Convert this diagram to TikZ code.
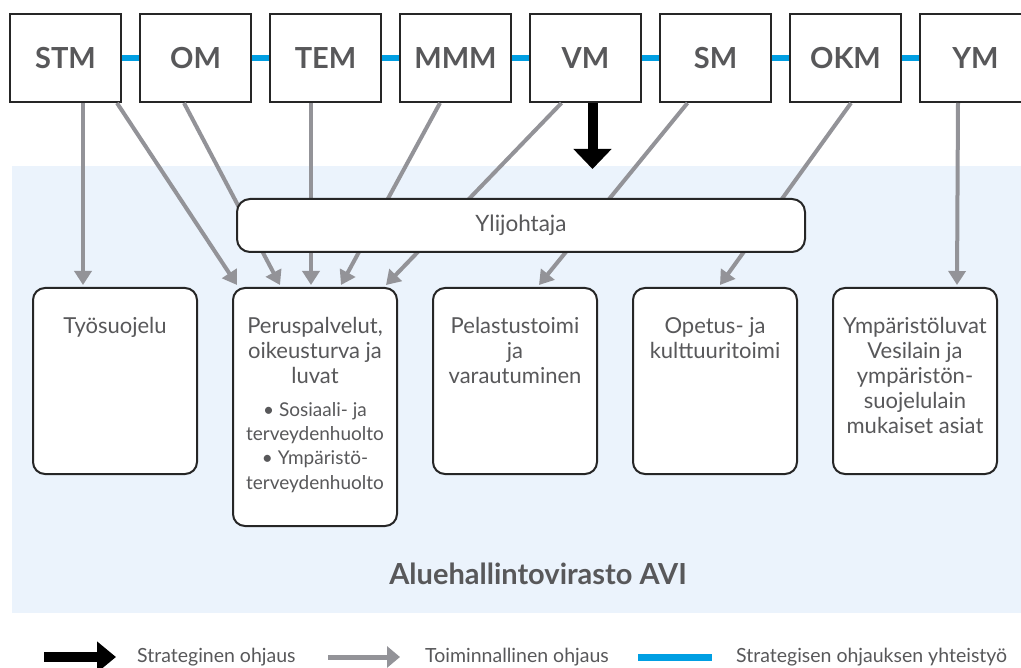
\documentclass[tikz,border=0pt]{standalone}
\usepackage{fontspec}
\setmainfont{Lato}
\usetikzlibrary{positioning, arrows.meta, calc}

\definecolor{avigray}{HTML}{58585A}
\definecolor{opsgray}{HTML}{939398}
\definecolor{coopblue}{HTML}{009FE3}
\definecolor{avibg}{HTML}{EBF3FC}

\begin{document}
\begin{tikzpicture}[
    x=1pt, y=-1pt,
    ministry/.style={draw=black!85, line width=2pt, fill=white,
        minimum width=111pt, minimum height=88pt, inner sep=0pt,
        font=\bfseries\fontsize{29}{30}\selectfont, text=avigray},
    unit/.style={draw=black!85, line width=2pt, fill=white,
        rounded corners=12pt, minimum width=164pt, inner sep=0pt, anchor=north},
    unittext/.style={anchor=north, align=center, inner sep=0pt, text=avigray,
        font=\fontsize{22}{25}\selectfont},
    subtext/.style={anchor=north, align=center, inner sep=0pt, text=avigray,
        font=\fontsize{19}{24.3}\selectfont},
    legtext/.style={anchor=base west, inner sep=0pt, text=avigray,
        font=\fontsize{19.5}{21}\selectfont},
    ops/.style={draw=opsgray, line width=4pt, -{Triangle[length=14pt, width=17pt]}},
    strat/.style={draw=black, line width=10pt, -{Triangle[length=20pt, width=37pt]}},
    coop/.style={draw=coopblue, line width=6pt}
]
    \useasboundingbox (0,0) rectangle (1021,668);

    % AVI area
    \fill[avibg] (12,166) rectangle (1030,613);
    \node[anchor=base, text=avigray, font=\bfseries\fontsize{29}{31}\selectfont]
        (avi) at (538,584) {Aluehallintovirasto AVI};

    % Ministries in a row
    \foreach \name [count=\i from 0] in {STM,OM,TEM,MMM,VM,SM,OKM,YM} {
        \node[ministry] (\name) at (65.5+130*\i, 58) {\name};
    }

    % Strategic cooperation
    \foreach \a/\b in {STM/OM, OM/TEM, TEM/MMM, MMM/VM, VM/SM, SM/OKM, OKM/YM} {
        \draw[coop] (\a.east) -- (\b.west);
    }

    % Units of AVI
    \foreach \name/\h [count=\i from 0] in {tyo/186, perus/238, pelas/186, opetus/186, ymp/186} {
        \node[unit, minimum height=\h pt] (\name) at (115+200*\i, 287) {};
    }

    \node[unittext] (tyotxt) at ($(tyo.north)+(0,30)$) {Työsuojelu};
    \node[unittext] (perustxt) at ($(perus.north)+(0,30)$)
        {Peruspalvelut,\\oikeusturva ja\\luvat};
    \node[subtext] (perussub) at ($(perus.north)+(0,115)$)
        {• Sosiaali- ja\\terveydenhuolto\\• Ympäristö-\\terveydenhuolto};
    \node[unittext] (pelastxt) at ($(pelas.north)+(0,30)$)
        {Pelastustoimi\\ja\\varautuminen};
    \node[unittext] (opetustxt) at ($(opetus.north)+(0,30)$)
        {Opetus- ja\\kulttuuritoimi};
    \node[unittext] (ymptxt) at ($(ymp.north)+(0,30)$)
        {Ympäristöluvat\\Vesilain ja\\ympäristön-\\suojelulain\\mukaiset asiat};

    % Operational steering
    \foreach \src/\sx/\dst/\dx in {STM/17.5/tyo/-32, STM/51.5/perus/-78,
            OM/-11.5/perus/-35, TEM/-14.5/perus/-4, MMM/-15.5/perus/26,
            VM/-24/perus/71, SM/-28/pelas/24, OKM/5.5/opetus/5, YM/-17.5/ymp/42} {
        \draw[ops] ($(\src.south)+(\sx,0)$) -- ($(\dst.north)+(\dx,-2)$);
    }

    % Regional director on top of the arrows
    \node[draw=black!85, line width=2pt, fill=white, rounded corners=13pt,
        minimum width=568pt, minimum height=53pt, text=avigray,
        font=\fontsize{22.5}{24}\selectfont] (ylij) at (521,225.5) {Ylijohtaja};

    % Strategic steering
    \coordinate (vmtip) at ($(VM.south)+(7,66)$);
    \draw[strat] ($(VM.south)+(7,0)$) -- (vmtip);

    % Legend
    \coordinate (lgsa) at (44,657);
    \coordinate (lgsb) at (116,657);
    \coordinate (lgoa) at (328,657);
    \coordinate (lgob) at (400,657);
    \coordinate (lgca) at (638,657);
    \coordinate (lgcb) at (712,657);
    \draw[strat, -{Triangle[length=19pt, width=30pt]}] (lgsa) -- (lgsb);
    \draw[ops, line width=5pt, -{Triangle[length=13pt, width=21pt]}] (lgoa) -- (lgob);
    \draw[coop, line width=7pt] (lgca) -- (lgcb);
    \node[legtext] (lgstxt) at (137,662) {Strateginen ohjaus};
    \node[legtext] (lgotxt) at (425,662) {Toiminnallinen ohjaus};
    \node[legtext] (lgctxt) at (736,662) {Strategisen ohjauksen yhteistyö};

\end{tikzpicture}
\end{document}
